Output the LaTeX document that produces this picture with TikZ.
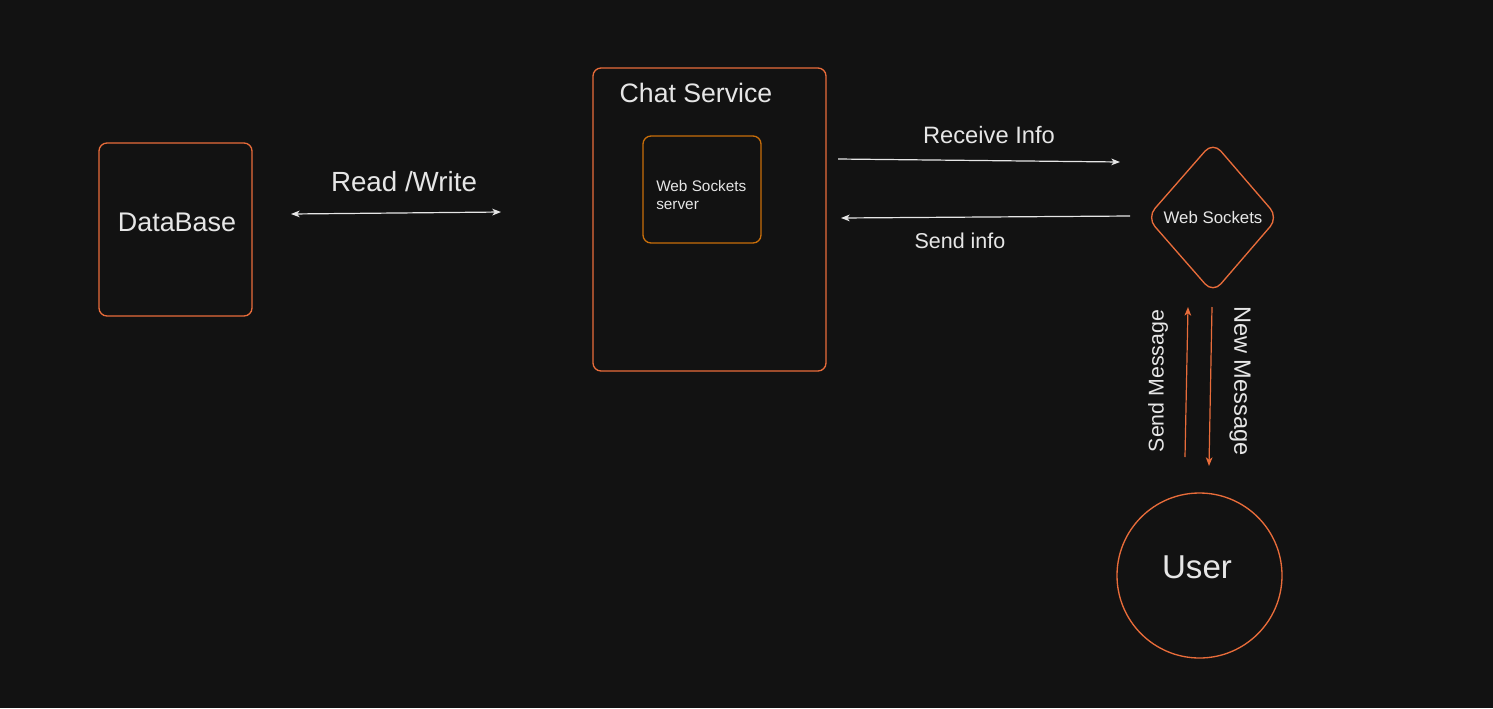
\documentclass[tikz,border=0pt]{standalone}
\usepackage{fontspec}
\setmainfont{Liberation Sans}
\usetikzlibrary{arrows.meta}
\definecolor{bgc}{HTML}{121212}
\definecolor{orng}{HTML}{E86C3A}
\definecolor{amber}{HTML}{C86E0A}
\definecolor{txt}{HTML}{E6E6E6}
\begin{document}
\begin{tikzpicture}[x=0.75pt,y=-0.75pt,
  box/.style={draw=orng,line width=1pt,rounded corners=6pt,inner sep=0pt},
  lbl/.style={text=txt,inner sep=0pt},
  tip/.style={Stealth[length=6.5pt,width=5pt,inset=1.8pt]},
  conn/.style={draw=txt,line width=0.9pt,-{Stealth[length=6.5pt,width=5pt,inset=1.8pt]}},
  oconn/.style={draw=orng,line width=0.9pt,-{Stealth[length=6.5pt,width=5pt,inset=1.8pt]}}]
\fill[bgc] (0,0) rectangle (1493,708);
\useasboundingbox (0,0) rectangle (1493,708);
% DataBase
\node[box,minimum width=153*0.75pt,minimum height=173*0.75pt] (db) at (175.5,229.5) {};
\node[lbl,font=\fontsize{20.2}{24}\selectfont] (dbt) at (177,222) {DataBase};
% Chat service
\node[box,minimum width=233*0.75pt,minimum height=303*0.75pt] (cs) at (709.5,219.5) {};
\node[lbl,font=\fontsize{20}{24}\selectfont] (cst) at (696,93) {Chat Service};
\node[box,draw=amber,minimum width=118*0.75pt,minimum height=107*0.75pt] (wss) at (702,189.5) {};
\node[lbl,font=\fontsize{11.5}{13.5}\selectfont,align=left,anchor=west] (wsst) at (656,195) {Web Sockets\\server};
% Diamond
\node[lbl,font=\fontsize{12.6}{15}\selectfont] (ws) at (1213,217) {Web Sockets};
\draw[orng,line width=1pt,rounded corners=9pt] (1213,142) -- (1278,217.5) -- (1213,293) -- (1147,217.5) -- cycle;
% User
\node[draw=orng,line width=1pt,circle,minimum size=165*0.75pt,inner sep=0pt] (user) at (1199.5,575.5) {};
\node[lbl,font=\fontsize{24.8}{29}\selectfont] (usert) at (1197,567) {User};
% connector coordinates
\coordinate (rw1) at (291,214); \coordinate (rw2) at (501,212);
\coordinate (ri1) at (838,159); \coordinate (ri2) at (1120,162);
\coordinate (si1) at (1130,216); \coordinate (si2) at (841,218);
\coordinate (sm1) at (1185,457); \coordinate (sm2) at (1188,307);
\coordinate (nm1) at (1212,307); \coordinate (nm2) at (1209,466);
\draw[conn,{Stealth[length=6.5pt,width=5pt,inset=1.8pt]}-{Stealth[length=6.5pt,width=5pt,inset=1.8pt]}] (rw1) -- (rw2);
\draw[conn] (ri1) -- (ri2);
\draw[conn] (si1) -- (si2);
\draw[oconn] (sm1) -- (sm2);
\draw[oconn] (nm1) -- (nm2);
% labels
\node[lbl,font=\fontsize{20.8}{25}\selectfont] (rwl) at (404,182) {Read /Write};
\node[lbl,font=\fontsize{17.8}{21}\selectfont] (ril) at (989,135) {Receive Info};
\node[lbl,font=\fontsize{16.1}{19}\selectfont] (sil) at (960,241) {Send info};
\node[lbl,font=\fontsize{16}{19}\selectfont,rotate=90] (sml) at (1158,381) {Send Message};
\node[lbl,font=\fontsize{17.7}{21}\selectfont,rotate=-90] (nml) at (1240,381) {New Message};
\end{tikzpicture}
\end{document}
